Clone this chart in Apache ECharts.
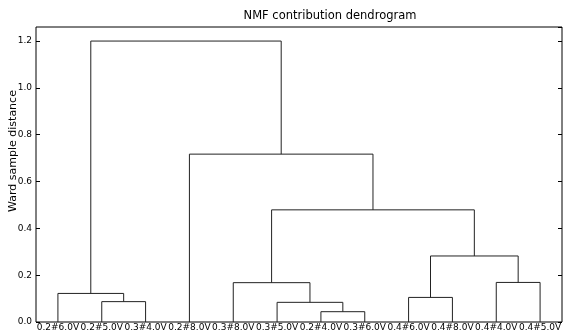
<!DOCTYPE html>
<html>
<head>
<meta charset="utf-8">
<script src="https://cdn.jsdelivr.net/npm/echarts@6/dist/echarts.min.js"></script>
<style>
  html, body { margin: 0; padding: 0; background: #fff; }
  #chart { width: 565px; height: 333px; }
</style>
</head>
<body>
<div id="chart"></div>
<script>
// Leaf labels in dendrogram order (left to right)
const leafLabels = ['0.2#6.0V', '0.2#5.0V', '0.3#4.0V', '0.2#8.0V', '0.3#8.0V', '0.3#5.0V',
                    '0.2#4.0V', '0.3#6.0V', '0.4#6.0V', '0.4#8.0V', '0.4#4.0V', '0.4#5.0V'];

// Linkage: each merge joins two clusters (leaf index < 12, else merge id 12 + row)
const mergeLeft   = [1, 0, 6, 5, 4, 8, 10, 17, 16, 3, 13];
const mergeRight  = [2, 12, 7, 14, 15, 9, 11, 18, 19, 20, 21];
const mergeHeight = [0.087, 0.122, 0.044, 0.084, 0.168, 0.105, 0.169, 0.282, 0.479, 0.717, 1.2];

const yTicks = [0.0, 0.2, 0.4, 0.6, 0.8, 1.0, 1.2];

const nLeaves = leafLabels.length;
const xMax = nLeaves * 10;
const yMax = 1.26;

// x position and height of every cluster node
const nodeX = [], nodeY = [];
for (let i = 0; i < nLeaves; i++) { nodeX.push(i * 10 + 5); nodeY.push(0); }

const series = [];
for (let k = 0; k < mergeHeight.length; k++) {
  const a = mergeLeft[k], b = mergeRight[k], h = mergeHeight[k];
  const xa = nodeX[a], xb = nodeX[b];
  series.push({
    type: 'line',
    xAxisIndex: 0,
    yAxisIndex: 0,
    symbol: 'none',
    silent: true,
    animation: false,
    lineStyle: { color: '#222', width: 1 },
    data: [[xa, nodeY[a]], [xa, h], [xb, h], [xb, nodeY[b]]]
  });
  nodeX.push((xa + xb) / 2);
  nodeY.push(h);
}

const chart = echarts.init(document.getElementById('chart'), null, { renderer: 'canvas' });
const font = 'DejaVu Sans';

chart.setOption({
  animation: false,
  backgroundColor: '#fff',
  graphic: [
    {
      type: 'text', x: 330, y: 16,
      style: {
        text: 'NMF contribution dendrogram', fill: '#000',
        font: '11.5px "DejaVu Sans"', align: 'center', verticalAlign: 'middle'
      }
    },
    {
      type: 'text', x: 13, y: 151, rotation: Math.PI / 2,
      style: {
        text: 'Ward sample distance', fill: '#000',
        font: '11px "DejaVu Sans"', align: 'center', verticalAlign: 'middle'
      }
    }
  ],
  grid: {
    left: 36, right: 3, top: 27, bottom: 11,
    outerBoundsMode: 'none', containLabel: false,
    show: true, borderColor: '#000', borderWidth: 1, backgroundColor: 'transparent'
  },
  xAxis: [
    {
      type: 'value', min: 0, max: xMax, show: false
    },
    {
      type: 'category',
      data: leafLabels,
      position: 'bottom',
      boundaryGap: true,
      axisLine: { show: false },
      axisTick: { show: false },
      splitLine: { show: false },
      axisLabel: { fontFamily: font, fontSize: 9, color: '#000', margin: 1, interval: 0 }
    }
  ],
  yAxis: [
    {
      type: 'value', min: 0, max: yMax, interval: 0.2,
      axisLine: { show: false },
      axisTick: { show: true, inside: true, length: 4, lineStyle: { color: '#000' } },
      splitLine: { show: false },
      axisLabel: {
        fontFamily: font, fontSize: 9, color: '#000', margin: 4, showMaxLabel: false,
        formatter: v => yTicks.some(t => Math.abs(t - v) < 1e-6) ? v.toFixed(1) : ''
      }
    },
    {
      type: 'value', min: 0, max: yMax, interval: 0.2, position: 'right',
      axisLine: { show: false },
      axisTick: { show: true, inside: true, length: 4, lineStyle: { color: '#000' } },
      splitLine: { show: false },
      axisLabel: { show: false }
    }
  ],
  series: series
});
</script>
</body>
</html>
